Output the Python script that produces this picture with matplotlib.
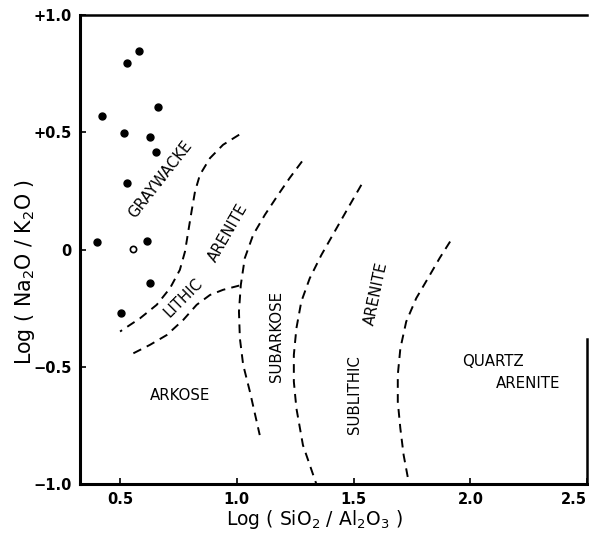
import numpy as np
import matplotlib
matplotlib.use("Agg")
import matplotlib.pyplot as plt

plt.rcParams['font.family'] = ['DejaVu Sans']
plt.rcParams['mathtext.default'] = 'regular'

# sample points, log(SiO2/Al2O3) vs log(Na2O/K2O)
solid_x = [0.583, 0.529, 0.661, 0.424, 0.516, 0.630, 0.652, 0.529, 0.403, 0.614, 0.628, 0.503]
solid_y = [0.849, 0.796, 0.607, 0.571, 0.499, 0.479, 0.416, 0.283, 0.031, 0.038, -0.144, -0.272]
open_x = [0.557]
open_y = [0.001]

# field boundaries
gw_x = [1.010, 0.941, 0.885, 0.842, 0.821, 0.806, 0.792, 0.778, 0.756, 0.714, 0.657, 0.585, 0.500]
gw_y = [0.490, 0.447, 0.390, 0.319, 0.248, 0.162, 0.077, -0.009, -0.087, -0.165, -0.236, -0.294, -0.350]

lith_x = [0.557, 0.628, 0.700, 0.771, 0.828, 0.885, 0.941, 1.010]
lith_y = [-0.443, -0.407, -0.365, -0.300, -0.236, -0.194, -0.172, -0.154]

subark_x = [1.279, 1.226, 1.177, 1.120, 1.070, 1.034, 1.017, 1.009, 1.013, 1.027, 1.056, 1.098]
subark_y = [0.376, 0.305, 0.234, 0.148, 0.063, -0.037, -0.151, -0.265, -0.379, -0.492, -0.607, -0.792]

sublith_x = [1.533, 1.476, 1.419, 1.362, 1.312, 1.276, 1.255, 1.244, 1.244, 1.255, 1.283, 1.340]
sublith_y = [0.276, 0.177, 0.077, -0.023, -0.123, -0.222, -0.336, -0.450, -0.564, -0.678, -0.835, -1.000]

qtz_x = [1.913, 1.868, 1.818, 1.768, 1.725, 1.700, 1.689, 1.689, 1.700, 1.714, 1.737]
qtz_y = [0.034, -0.037, -0.123, -0.208, -0.308, -0.422, -0.535, -0.650, -0.764, -0.877, -1.000]

xticks = [0.5, 1.0, 1.5, 2.0, 2.5]
xticklabels = ['0.5', '1.0', '1.5', '2.0', '2.5']
yticks = [-1.0, -0.5, 0, 0.5, 1.0]
yticklabels = ['\u22121.0', '\u22120.5', '0', '+0.5', '+1.0']

fig = plt.figure(figsize=(5.89, 5.43), dpi=100)
ax = fig.add_axes([0.136, 0.109, 0.861, 0.863])

dash = dict(color='black', lw=1.4, dashes=(4.5, 3.2))
for bx, by in [(gw_x, gw_y), (lith_x, lith_y), (subark_x, subark_y),
               (sublith_x, sublith_y), (qtz_x, qtz_y)]:
    ax.plot(bx, by, **dash)

ax.plot(solid_x, solid_y, 'o', color='black', ms=5)
ax.plot(open_x, open_y, 'o', mfc='white', mec='black', mew=1.2, ms=4.5)

lab = dict(fontsize=10.8, ha='center', va='center', color='black')
ax.text(0.671, 0.298, 'GRAYWACKE', rotation=52, **lab)
ax.text(0.963, 0.070, 'ARENITE', rotation=60, **lab)
ax.text(0.771, -0.208, 'LITHIC', rotation=45, **lab)
ax.text(0.756, -0.621, 'ARKOSE', **lab)
ax.text(1.170, -0.372, 'SUBARKOSE', rotation=90, **lab)
ax.text(1.504, -0.621, 'SUBLITHIC', rotation=90, **lab)
ax.text(1.597, -0.187, 'ARENITE', rotation=78, **lab)
ax.text(2.095, -0.479, 'QUARTZ', **lab)
ax.text(2.245, -0.571, 'ARENITE', **lab)

ax.set_xlim(0.329, 2.5)
ax.set_ylim(-1.0, 1.0)
ax.set_xticks(xticks)
ax.set_xticklabels(xticklabels, fontweight='bold')
ax.set_yticks(yticks)
ax.set_yticklabels(yticklabels, fontweight='bold')
ax.tick_params(direction='in', length=4, width=1.2, labelsize=10.5, pad=6)
# last x label sits against the right edge
ax.get_xticklabels()[-1].set_horizontalalignment('right')

for s in ['left', 'bottom']:
    ax.spines[s].set_linewidth(2.2)
ax.spines['top'].set_linewidth(1.8)
ax.spines['right'].set_linewidth(1.8)
ax.spines['right'].set_bounds(-1.0, -0.38)

ax.set_xlabel('Log ( SiO$_2$ / Al$_2$O$_3$ )', fontsize=13.5)
ax.set_ylabel('Log ( Na$_2$O / K$_2$O )', fontsize=14.8)
ax.xaxis.set_label_coords(0.463, -0.052)
ax.yaxis.set_label_coords(-0.085, 0.452)

fig.savefig('out.png', dpi=100)
